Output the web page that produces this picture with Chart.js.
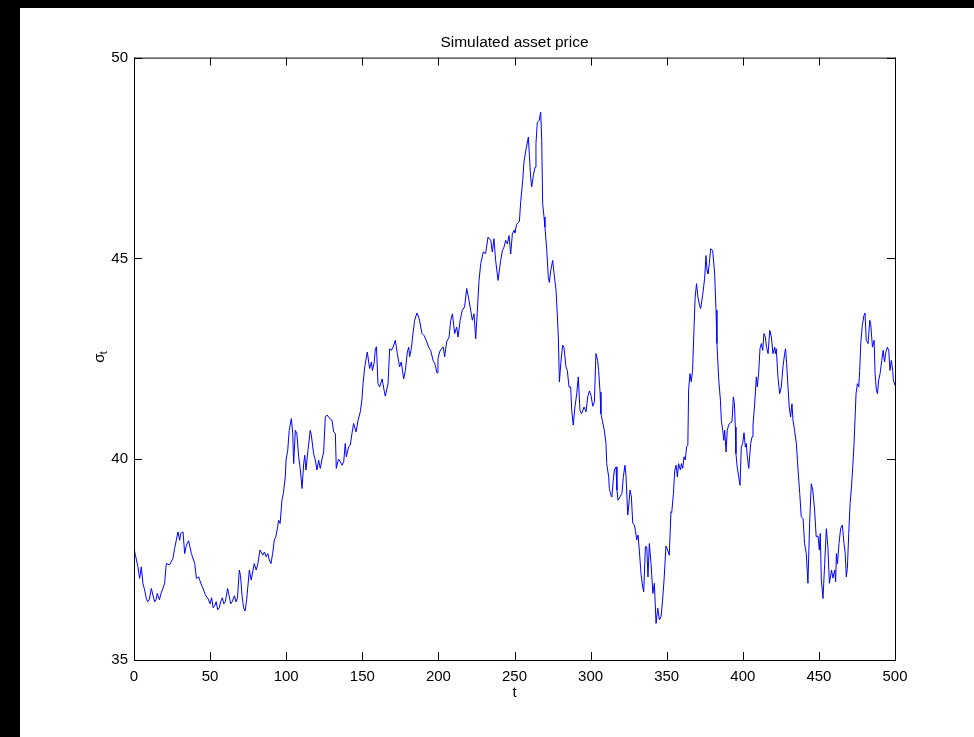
<!DOCTYPE html>
<html>
<head>
<meta charset="utf-8">
<script src="https://cdn.jsdelivr.net/npm/chart.js@4.4.0/dist/chart.umd.min.js"></script>
<style>
  html, body { margin: 0; padding: 0; background: #000; }
  body { width: 974px; height: 737px; position: relative; overflow: hidden; }
  #paper { position: absolute; left: 20px; top: 8px; right: 0; bottom: 0; background: #fff; }
  #chart { position: absolute; left: 0; top: 0; }
</style>
</head>
<body>
<div id="paper"></div>
<canvas id="chart" width="974" height="737"></canvas>
<script>
// values (t, price)
const tValues = [
  0, 1, 2.6, 3.7, 4.8, 5.9, 7, 8.1, 9, 10, 11.4, 12.5, 13.6, 14.5, 15.3, 16.7, 17.8, 20.1, 21.2, 23.4,
  25.6, 26.7, 28.9, 30, 30.7, 32.2, 33.3, 34.4, 35.9, 37.7, 39.9, 41, 42.5, 44.3, 45.4, 46.9, 48.6, 50, 51, 52,
  53, 54, 55, 56, 57, 58, 59, 60, 61.5, 62.5, 63.5, 64.5, 66, 67, 68, 69.2, 70, 71, 72, 73,
  74, 75.8, 77, 79, 80.3, 81.4, 82.8, 84.6, 85.7, 86.8, 87.9, 88.9, 90, 91.1, 92.2, 93.2, 94.4, 95, 96, 97.2,
  98.1, 99.4, 99.9, 101, 102, 103.4, 104.3, 104.9, 106, 107, 108.2, 109.3, 110.4, 111.5, 112.2, 113, 114.3, 115.8, 116.5, 118,
  119.1, 120.2, 121.3, 122.4, 123.4, 124.6, 125.7, 126.8, 129, 130.1, 131.2, 132.3, 132.9, 134.4, 135.5, 136.7, 137.8, 138.8, 139.5, 141,
  142.1, 143.2, 144.3, 145.9, 147.2, 148.7, 149.8, 150.5, 151.6, 153.3, 154.8, 156, 156.6, 157.7, 158.6, 159.3, 160.3, 161.4, 163, 164.3,
  165.1, 166.9, 168, 169.1, 170.2, 171.7, 173, 174.5, 175.6, 177.2, 178.3, 179.6, 180.5, 181.1, 182.2, 183.3, 184.4, 185.9, 187, 187.6,
  189.2, 190.5, 192, 193.6, 194.9, 196.5, 197.6, 199.1, 199.7, 200.8, 201.9, 203.2, 204.1, 205.4, 207, 208.1, 209.2, 210.7, 212, 212.9,
  214.3, 215.7, 217.2, 218.6, 219.7, 221.2, 222.3, 223.4, 224.5, 225.6, 226.7, 227.8, 229.5, 231, 232.6, 234.4, 235.4, 236.5, 237.6, 239.2,
  240.9, 242.1, 243.1, 244.2, 245.3, 246.4, 247.5, 248.6, 249.7, 250.3, 251.4, 253.2, 254.1, 255.4, 256.2, 257.6, 259.1, 259.8, 260.6, 261.3,
  262.4, 263.5, 264.1, 265, 266.2, 267.2, 267.9, 268.5, 269.4, 270, 271.2, 272.2, 272.9, 273.8, 275.1, 276, 277.3, 278.1, 278.8, 279.5,
  280.4, 281.6, 282.5, 283.8, 284.7, 285.8, 286.9, 287.6, 288.6, 289.7, 290.9, 291.9, 293, 294.1, 295.7, 297, 298.1, 299.2, 300.3, 301.4,
  302.5, 303.5, 304.6, 305.3, 306.2, 306.8, 307.9, 309, 310.1, 310.6, 311.2, 311.9, 312.3, 313.4, 314, 314.9, 315.6, 316.7, 317.3, 318,
  319.3, 320.6, 321.5, 322.6, 323.3, 324.4, 325, 325.9, 326.8, 327.7, 328.8, 329.4, 330.3, 331.2, 332, 333.1, 334.2, 334.9, 336, 336.9,
  337.7, 338.6, 339.7, 340.9, 341.9, 343, 344.1, 345.2, 346.3, 347.3, 348.4, 349.5, 350.6, 351.7, 352.8, 353.3, 354.4, 355.3, 356.2, 357,
  357.8, 359, 359.7, 360.5, 361.4, 362.2, 363.1, 363.9, 364.4, 365.3, 366.1, 367, 367.9, 368.7, 369.6, 370.5, 371.6, 372.3, 373.6, 374.9,
  375.8, 376.5, 377.1, 378, 378.9, 380.2, 381.5, 382.4, 383, 384.2, 385.3, 385.9, 386.8, 387.5, 388.1, 389, 389.8, 390.7, 391.8, 392.9,
  393.8, 394.5, 395.1, 395.5, 396.3, 397.3, 398.2, 399, 399.9, 400.8, 401.7, 402.3, 402.9, 403.9, 405.2, 406.1, 406.7, 407.8, 408.9, 409.5,
  410.4, 411.3, 412.2, 413.1, 413.9, 414.8, 415.6, 416.6, 417.7, 418.8, 419.8, 421, 421.4, 422, 423.1, 424.2, 425.3, 426.4, 427.5, 428.1,
  428.8, 429.7, 430.5, 431.4, 432.3, 433, 434, 435.2, 436.3, 437.4, 438.4, 439.6, 440.6, 441.7, 442.8, 443.9, 445, 446, 447.2, 448.2,
  449.4, 450.3, 450.9, 451.6, 452.7, 453.8, 454.9, 455.9, 456.9, 458.3, 459.2, 460.4, 461, 461.5, 462.2, 463.2, 464.3, 465.4, 466.5, 467.3,
  468, 468.7, 469.6, 470.5, 471.4, 472.3, 473.1, 473.8, 474.4, 475.3, 476.2, 476.8, 477.5, 478.5, 479.6, 480.3, 481.1, 482.3, 483.4, 484,
  485.2, 486.3, 486.9, 487.8, 488.5, 489.3, 490.2, 491.3, 492.2, 493.1, 494, 495, 495.9, 496.7, 497.6, 498.5, 498.9, 500
];
const priceValues = [
  37.78, 37.6, 37.32, 37.03, 37.32, 36.9, 36.74, 36.53, 36.45, 36.5, 36.78, 36.6, 36.45, 36.5, 36.66, 36.5, 36.66, 36.9, 37.4, 37.37,
  37.53, 37.78, 38.19, 37.98, 38.15, 38.19, 37.65, 37.86, 37.97, 37.65, 37.4, 37.03, 37.07, 36.87, 36.78, 36.62, 36.53, 36.4, 36.55, 36.3,
  36.35, 36.45, 36.25, 36.3, 36.45, 36.55, 36.4, 36.45, 36.78, 36.6, 36.4, 36.45, 36.6, 36.45, 36.55, 37.24, 37.1, 36.6, 36.3, 36.22,
  36.5, 37.24, 36.99, 37.4, 37.24, 37.4, 37.74, 37.61, 37.69, 37.57, 37.65, 37.49, 37.4, 37.65, 37.99, 38.07, 38.32, 38.48, 38.4, 38.98,
  39.14, 39.56, 39.98, 40.22, 40.72, 41.01, 40.64, 39.89, 40.72, 40.64, 40.06, 39.73, 39.27, 39.89, 40.1, 39.73, 40.22, 40.72, 40.6, 40.14,
  39.98, 39.73, 39.98, 39.77, 39.98, 40.18, 41.05, 41.1, 41.0, 40.97, 40.68, 40.64, 39.77, 40.0, 39.94, 39.85, 39.94, 40.39, 40.06, 40.31,
  40.35, 40.64, 40.89, 40.68, 40.97, 41.18, 41.5, 41.88, 42.3, 42.67, 42.26, 42.42, 42.21, 42.38, 42.75, 42.8, 41.88, 41.8, 42.0, 41.72,
  41.57, 41.88, 42.75, 42.71, 42.79, 42.96, 42.63, 42.3, 42.42, 42.0, 42.21, 42.67, 42.79, 42.55, 42.75, 43.13, 43.46, 43.64, 43.54, 43.46,
  43.13, 43.08, 42.96, 42.79, 42.71, 42.46, 42.38, 42.15, 42.5, 42.67, 42.75, 42.79, 42.55, 42.92, 43.04, 43.46, 43.62, 43.13, 43.29, 43.04,
  43.46, 43.71, 43.79, 44.25, 44.04, 43.71, 43.46, 43.62, 43.0, 43.71, 44.45, 44.87, 45.16, 45.12, 45.53, 45.45, 45.16, 45.49, 44.95, 44.45,
  44.95, 45.2, 45.28, 45.45, 45.36, 45.57, 45.11, 45.61, 45.7, 45.64, 45.85, 45.92, 46.42, 46.94, 47.4, 47.72, 48.02, 47.56, 47.02, 46.78,
  47.07, 47.27, 47.86, 48.39, 48.43, 48.64, 47.94, 46.36, 46.03, 45.78, 45.2, 44.53, 44.4, 44.7, 44.95, 44.62, 44.2, 43.62, 43.04, 41.92,
  42.38, 42.84, 42.79, 42.3, 42.21, 41.8, 41.8, 41.22, 40.85, 41.3, 41.63, 42.05, 41.22, 41.13, 41.3, 41.18, 41.55, 41.7, 41.59, 41.32,
  41.43, 42.63, 42.46, 42.21, 41.67, 41.13, 40.93, 40.72, 40.39, 39.89, 39.73, 39.56, 39.27, 39.1, 39.06, 39.48, 39.73, 39.81, 39.23, 38.98,
  39.06, 39.15, 39.56, 39.85, 39.56, 38.61, 38.81, 39.23, 39.06, 38.4, 38.36, 38.23, 37.99, 38.11, 37.74, 37.16, 36.82, 36.7, 37.82, 37.82,
  37.07, 37.9, 37.4, 36.66, 36.91, 35.91, 36.29, 36.0, 36.08, 36.49, 37.07, 37.84, 37.74, 37.61, 38.69, 38.67, 39.14, 39.73, 39.85, 39.56,
  39.89, 39.73, 39.89, 39.77, 40.06, 39.98, 40.31, 40.35, 41.72, 42.13, 41.93, 42.21, 43.21, 44.04, 44.37, 44.04, 43.83, 43.75, 44.08, 44.49,
  45.07, 44.7, 44.62, 44.87, 45.24, 45.2, 44.62, 43.71, 42.88, 41.97, 41.47, 40.97, 40.72, 40.47, 40.72, 40.18, 40.72, 40.85, 40.91, 40.93,
  41.55, 41.38, 40.8, 40.14, 39.81, 39.56, 39.35, 40.3, 40.39, 40.66, 40.3, 40.39, 40.1, 39.77, 40.39, 40.56, 40.85, 41.38, 42.05, 41.8,
  42.13, 42.75, 42.88, 42.71, 43.13, 43.04, 42.79, 42.63, 43.21, 43.04, 42.63, 42.79, 42.63, 42.75, 42.05, 41.63, 41.8, 42.3, 42.63, 42.75,
  42.38, 41.8, 41.3, 41.05, 41.38, 40.97, 40.72, 40.39, 39.73, 39.15, 38.57, 38.52, 37.9, 37.65, 36.91, 38.4, 39.39, 39.23, 38.73, 38.07,
  38.09, 37.74, 38.15, 36.99, 36.53, 37.4, 38.27, 37.82, 36.91, 37.24, 37.04, 37.24, 36.95, 37.65, 37.4, 37.9, 38.28, 38.36, 37.9, 37.65,
  37.07, 37.28, 38.15, 38.9, 39.31, 39.85, 40.39, 41.05, 41.63, 41.88, 41.8, 42.21, 42.88, 43.33, 43.58, 43.64, 42.96, 42.88, 43.46, 43.38,
  42.79, 42.96, 42.13, 41.72, 41.63, 41.97, 42.13, 42.46, 42.71, 42.42, 42.67, 42.79, 42.71, 42.21, 42.46, 42.21, 41.97, 41.84
];
const xTickValues = [0, 50, 100, 150, 200, 250, 300, 350, 400, 450, 500];
const yTickValues = [35, 40, 45, 50];
const chartTitle = 'Simulated asset price';
const xLabel = 't';

const FONT = '"Liberation Sans", Arial, Helvetica, sans-serif';
const TICK_LEN = 8;

// MATLAB style box with inward ticks on all four sides
const axesBox = {
  id: 'axesBox',
  afterDatasetsDraw(chart) {
    const { ctx, chartArea: a, scales: { x, y } } = chart;
    ctx.save();
    ctx.strokeStyle = '#000';
    ctx.lineWidth = 1;
    ctx.beginPath();
    xTickValues.forEach(v => {
      const px = Math.round(x.getPixelForValue(v)) + 0.5;
      ctx.moveTo(px, a.bottom); ctx.lineTo(px, a.bottom - TICK_LEN);
      ctx.moveTo(px, a.top); ctx.lineTo(px, a.top + TICK_LEN);
    });
    yTickValues.forEach(v => {
      const py = Math.round(y.getPixelForValue(v)) + 0.5;
      ctx.moveTo(a.left, py); ctx.lineTo(a.left + TICK_LEN, py);
      ctx.moveTo(a.right, py); ctx.lineTo(a.right - TICK_LEN, py);
    });
    ctx.stroke();
    ctx.strokeRect(a.left + 0.5, a.top + 0.5, a.width, a.height);
    ctx.restore();
  }
};

// y label: sigma with subscript t
const sigmaLabel = {
  id: 'sigmaLabel',
  afterDraw(chart) {
    const ctx = chart.ctx;
    const cy = (chart.chartArea.top + chart.chartArea.bottom) / 2;
    ctx.save();
    ctx.translate(100, cy);
    ctx.rotate(-Math.PI / 2);
    ctx.fillStyle = '#000';
    ctx.textBaseline = 'alphabetic';
    ctx.textAlign = 'left';
    ctx.font = '15px ' + FONT;
    ctx.fillText('σ', -4, 4);
    ctx.font = '11px ' + FONT;
    ctx.fillText('t', 4.5, 7);
    ctx.restore();
  }
};

const points = tValues.map((t, i) => ({ x: t, y: priceValues[i] }));

new Chart(document.getElementById('chart'), {
  type: 'line',
  data: {
    datasets: [{
      data: points,
      borderColor: '#0000ff',
      borderWidth: 1,
      pointRadius: 0,
      tension: 0,
      fill: false
    }]
  },
  options: {
    responsive: false,
    animation: false,
    // left 55 + y axis 79 = 134; empty right axis 79 -> plot right at 895,
    // which keeps the title centred over the axes box
    layout: { padding: { left: 55, right: 0, top: 0, bottom: 0 } },
    plugins: {
      legend: { display: false },
      tooltip: { enabled: false },
      title: {
        display: true,
        text: chartTitle,
        color: '#000',
        font: { family: FONT, size: 15.5, weight: 'normal' },
        padding: { top: 33, bottom: 6 }
      }
    },
    scales: {
      x: {
        type: 'linear',
        min: 0,
        max: 500,
        afterBuildTicks: s => { s.ticks = xTickValues.map(v => ({ value: v })); },
        afterFit: s => { s.height = 77; },
        grid: { display: false, drawTicks: false },
        border: { display: false },
        ticks: { color: '#000', padding: 8, maxRotation: 0, font: { family: FONT, size: 15 } },
        title: {
          display: true,
          text: xLabel,
          color: '#000',
          font: { family: FONT, size: 15 },
          padding: { top: 0, bottom: 35 }
        }
      },
      y: {
        type: 'linear',
        min: 35,
        max: 50,
        afterBuildTicks: s => { s.ticks = yTickValues.map(v => ({ value: v })); },
        afterFit: s => { s.width = 79; },
        grid: { display: false, drawTicks: false },
        border: { display: false },
        ticks: { color: '#000', padding: 6, font: { family: FONT, size: 15 } }
      },
      yRight: {
        type: 'linear',
        position: 'right',
        min: 35,
        max: 50,
        afterFit: s => { s.width = 79; },
        grid: { display: false, drawTicks: false },
        border: { display: false },
        ticks: { display: false }
      }
    }
  },
  plugins: [axesBox, sigmaLabel]
});
</script>
</body>
</html>
